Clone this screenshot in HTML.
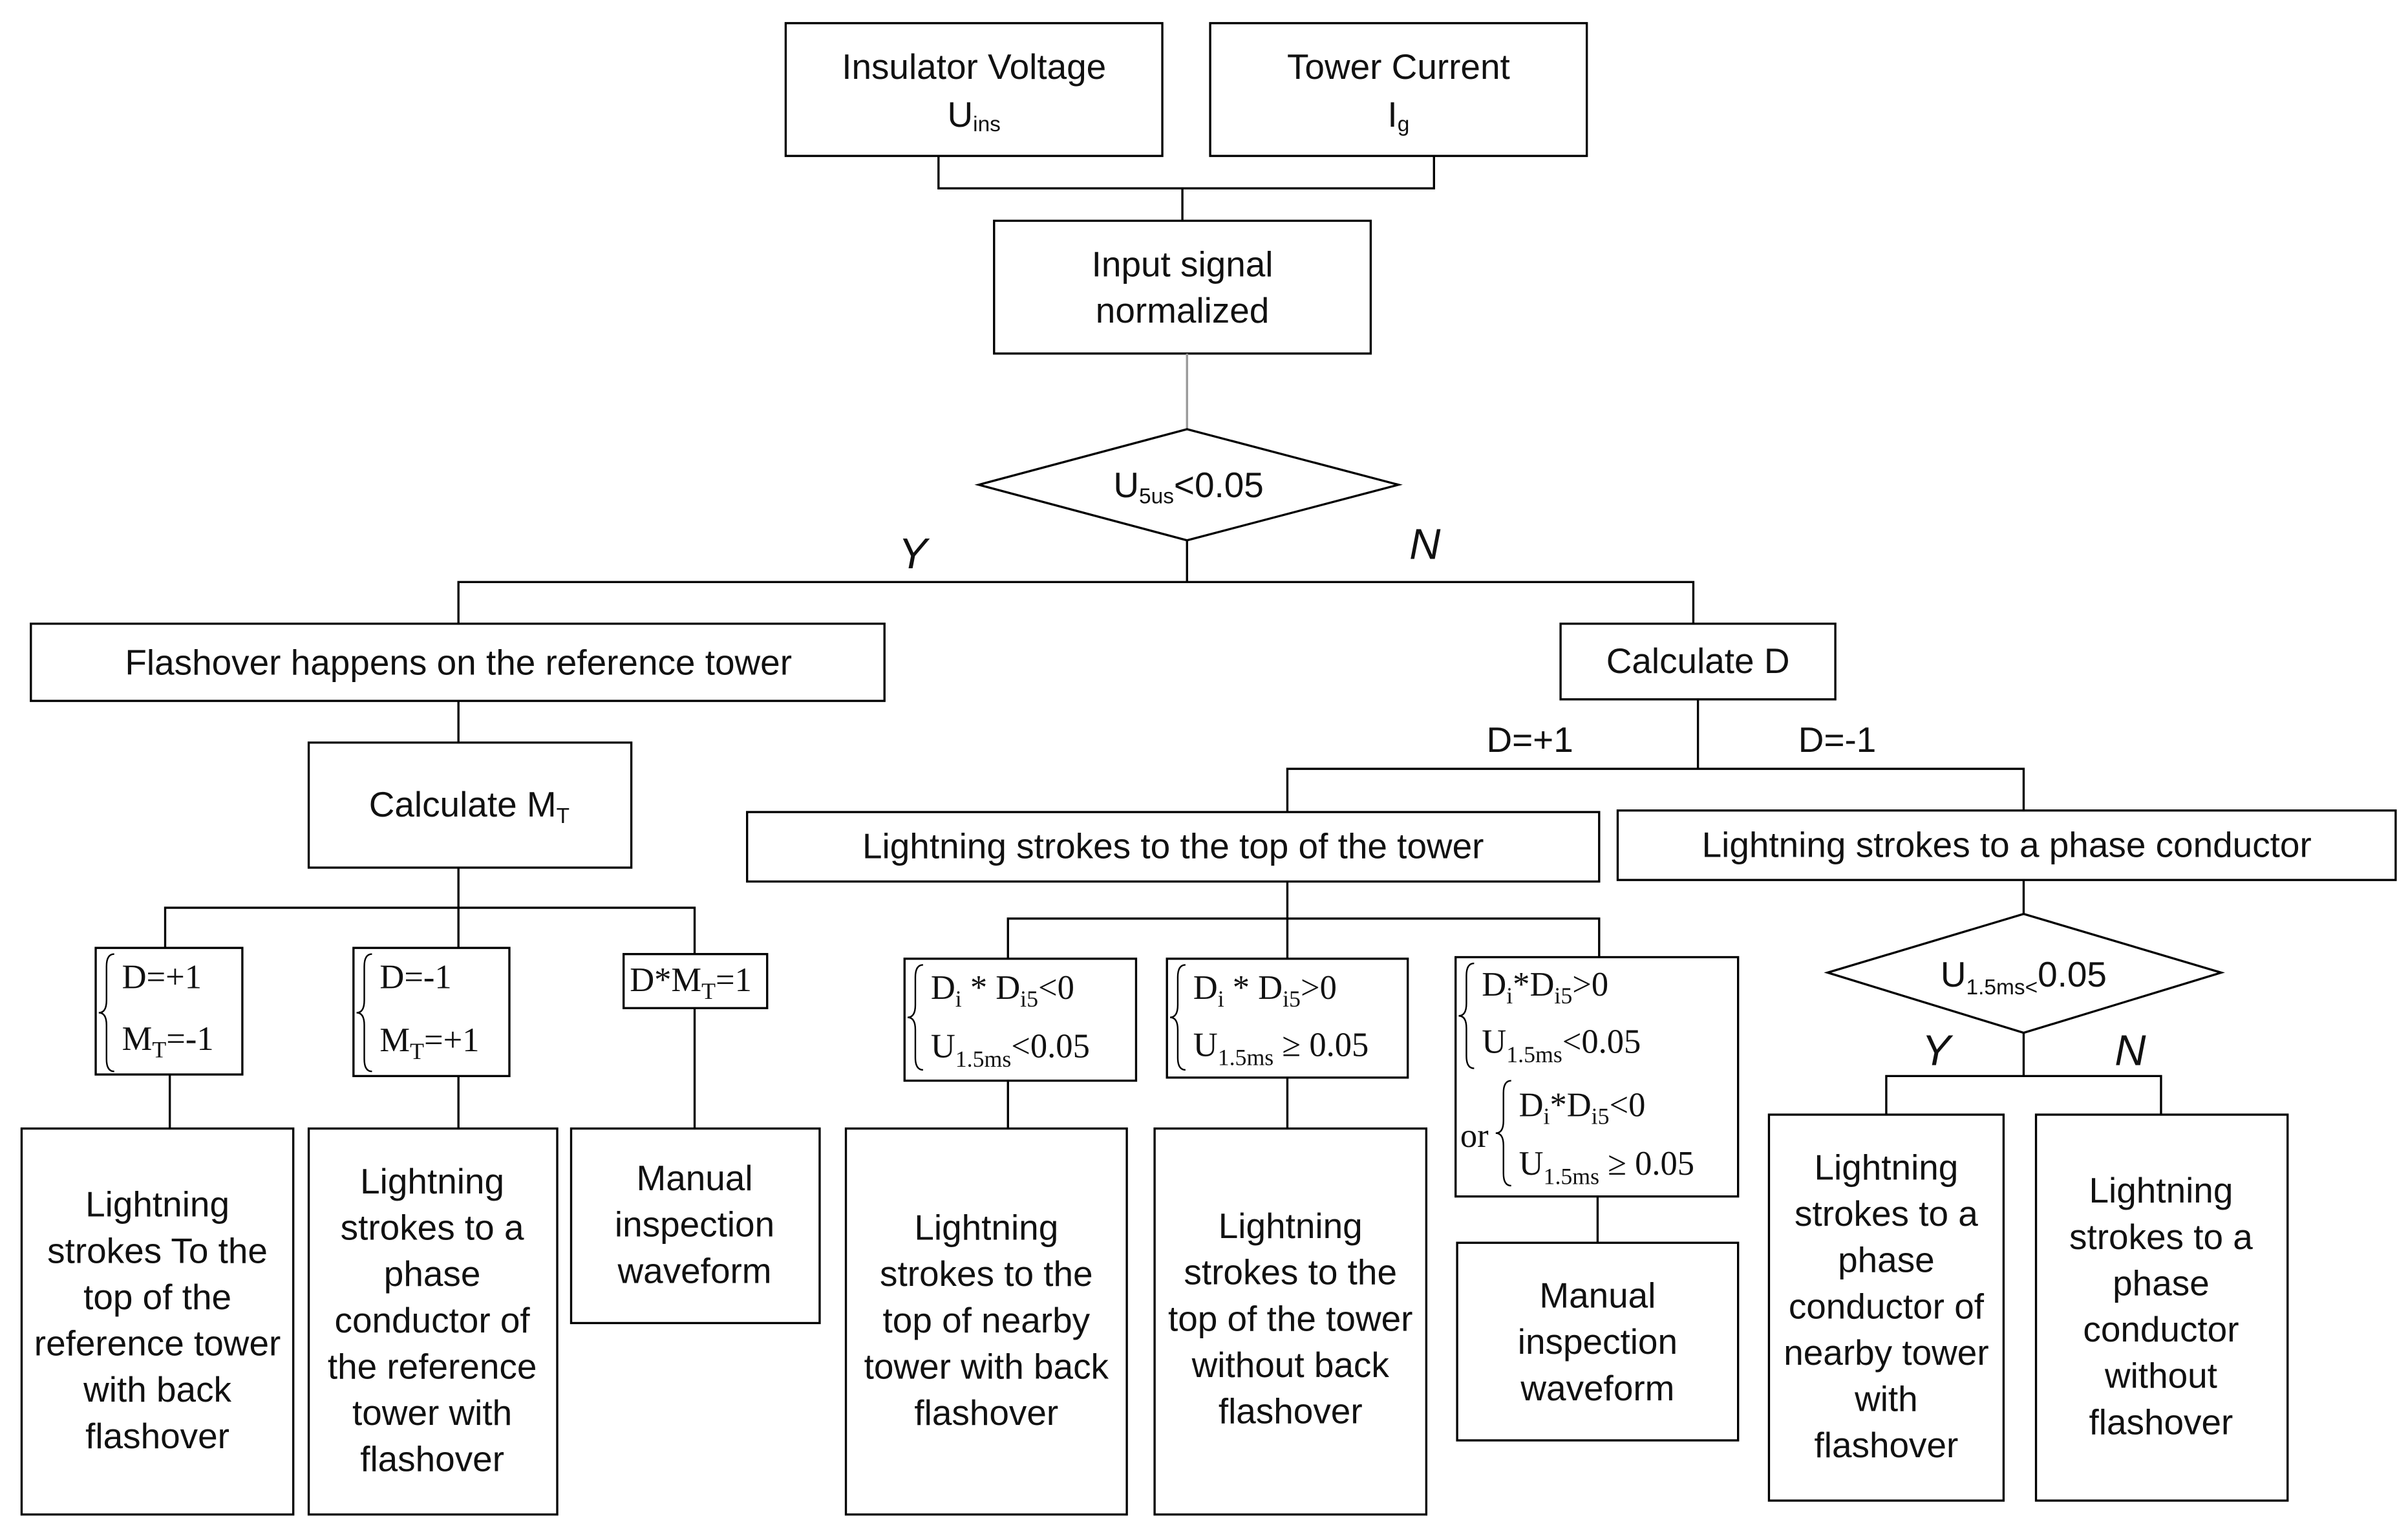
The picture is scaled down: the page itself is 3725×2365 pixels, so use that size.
<!DOCTYPE html>
<html><head><meta charset="utf-8">
<style>
html,body{margin:0;padding:0;background:#fff;}
svg{display:block;}
text{font-family:"Liberation Sans",sans-serif;font-size:23px;fill:#111;}
.m{font-family:"Liberation Serif",serif;font-size:22px;}
.s{font-size:14px;}
.ms{font-family:"Liberation Serif",serif;font-size:15px;}
</style></head><body>
<svg width="3725" height="2365" viewBox="0 0 1560 990.4" preserveAspectRatio="none" xmlns="http://www.w3.org/2000/svg">
<g fill="none" stroke="#000" stroke-width="1.4">
<rect x="509" y="15" width="244" height="86"/>
<rect x="784" y="15" width="244" height="86"/>
<polyline points="608,101 608,122 929,122 929,101"/>
<line x1="766" y1="122" x2="766" y2="143"/>
<rect x="644" y="143" width="244" height="86"/>
<line x1="769" y1="229" x2="769" y2="278" stroke="#999"/>
<polygon points="634,314 769,278 906,314 769,350"/>
<line x1="769" y1="350" x2="769" y2="377"/>
<polyline points="297,404 297,377 1097,377 1097,404"/>
<rect x="20" y="404" width="553" height="50"/>
<line x1="297" y1="454" x2="297" y2="481"/>
<rect x="200" y="481" width="209" height="81"/>
<line x1="297" y1="562" x2="297" y2="588"/>
<polyline points="107,614 107,588 450,588 450,618"/>
<line x1="297" y1="588" x2="297" y2="614"/>
<rect x="62" y="614" width="95" height="82"/>
<rect x="229" y="614" width="101" height="83"/>
<rect x="404" y="618" width="93" height="35"/>
<line x1="110" y1="696" x2="110" y2="731"/>
<line x1="297" y1="697" x2="297" y2="731"/>
<line x1="450" y1="653" x2="450" y2="731"/>
<rect x="14" y="731" width="176" height="250"/>
<rect x="200" y="731" width="161" height="250"/>
<rect x="370" y="731" width="161" height="126"/>
<rect x="1011" y="404" width="178" height="49"/>
<line x1="1100" y1="453" x2="1100" y2="498"/>
<polyline points="834,526 834,498 1311,498 1311,525"/>
<rect x="484" y="526" width="552" height="45"/>
<rect x="1048" y="525" width="504" height="45"/>
<line x1="834" y1="571" x2="834" y2="621"/>
<polyline points="653,621 653,595 1036,595 1036,620"/>
<rect x="586" y="621" width="150" height="79"/>
<rect x="756" y="621" width="156" height="77"/>
<rect x="943" y="620" width="183" height="155"/>
<line x1="653" y1="700" x2="653" y2="731"/>
<line x1="834" y1="698" x2="834" y2="731"/>
<line x1="1035" y1="775" x2="1035" y2="805"/>
<rect x="548" y="731" width="182" height="250"/>
<rect x="748" y="731" width="176" height="250"/>
<rect x="944" y="805" width="182" height="128"/>
<line x1="1311" y1="570" x2="1311" y2="592"/>
<polygon points="1184,630 1311,592 1439,630 1311,669"/>
<line x1="1311" y1="669" x2="1311" y2="697"/>
<polyline points="1222,722 1222,697 1400,697 1400,722"/>
<rect x="1146" y="722" width="152" height="250"/>
<rect x="1319" y="722" width="163" height="250"/>
<!-- braces -->
<path d="M74,618 q-5,0 -5,8 v22 q0,8 -5,8 q5,0 5,8 v22 q0,8 5,8" stroke-width="1"/>
<path d="M241,618 q-5,0 -5,8 v22 q0,8 -5,8 q5,0 5,8 v22 q0,8 5,8" stroke-width="1"/>
<path d="M598,625 q-5,0 -5,8 v18 q0,8 -5,8 q5,0 5,8 v18 q0,8 5,8" stroke-width="1"/>
<path d="M768,625 q-5,0 -5,8 v18 q0,8 -5,8 q5,0 5,8 v18 q0,8 5,8" stroke-width="1"/>
<path d="M955,624 q-5,0 -5,8 v18 q0,8 -5,8 q5,0 5,8 v18 q0,8 5,8" stroke-width="1"/>
<path d="M979,700 q-5,0 -5,8 v18 q0,8 -5,8 q5,0 5,8 v18 q0,8 5,8" stroke-width="1"/>
</g>
<g text-anchor="middle">
<text x="631" y="51">Insulator Voltage</text>
<text x="631" y="82">U<tspan class="s" dy="3">ins</tspan></text>
<text x="906" y="51">Tower Current</text>
<text x="906" y="82">I<tspan class="s" dy="3">g</tspan></text>
<text x="766" y="179">Input signal</text>
<text x="766" y="209">normalized</text>
<text x="770" y="322">U<tspan class="s" dy="4">5us</tspan><tspan dy="-4">&lt;0.05</tspan></text>
<text x="297" y="437">Flashover happens on the reference tower</text>
<text x="304" y="529">Calculate  M<tspan class="s" dy="4">T</tspan></text>
<text x="1100" y="436">Calculate D</text>
<text x="760" y="556">Lightning strokes to the top of the tower</text>
<text x="1300" y="555">Lightning strokes to a phase conductor</text>
<text x="1311" y="639">U<tspan class="s" dy="5">1.5ms&lt;</tspan><tspan dy="-5">0.05</tspan></text>
</g>
<text x="582" y="368" style="font-style:italic;font-size:28px">Y</text>
<text x="913" y="362" style="font-style:italic;font-size:28px">N</text>
<text x="963" y="487">D=+1</text>
<text x="1165" y="487">D=-1</text>
<text x="1245" y="690" style="font-style:italic;font-size:28px">Y</text>
<text x="1370" y="690" style="font-style:italic;font-size:28px">N</text>
<!-- math -->
<text class="m" x="79" y="640">D=+1</text>
<text class="m" x="79" y="680">M<tspan class="ms" dy="5">T</tspan><tspan dy="-5">=-1</tspan></text>
<text class="m" x="246" y="640">D=-1</text>
<text class="m" x="246" y="681">M<tspan class="ms" dy="5">T</tspan><tspan dy="-5">=+1</tspan></text>
<text class="m" x="408" y="642">D*M<tspan class="ms" dy="5">T</tspan><tspan dy="-5">=1</tspan></text>
<text class="m" x="603" y="647">D<tspan class="ms" dy="5">i</tspan><tspan dy="-5"> * D</tspan><tspan class="ms" dy="5">i5</tspan><tspan dy="-5">&lt;0</tspan></text>
<text class="m" x="603" y="685">U<tspan class="ms" dy="6">1.5ms</tspan><tspan dy="-6">&lt;0.05</tspan></text>
<text class="m" x="773" y="647">D<tspan class="ms" dy="5">i</tspan><tspan dy="-5"> * D</tspan><tspan class="ms" dy="5">i5</tspan><tspan dy="-5">&gt;0</tspan></text>
<text class="m" x="773" y="684">U<tspan class="ms" dy="6">1.5ms</tspan><tspan dy="-6"> ≥ 0.05</tspan></text>
<text class="m" x="960" y="645">D<tspan class="ms" dy="5">i</tspan><tspan dy="-5">*D</tspan><tspan class="ms" dy="5">i5</tspan><tspan dy="-5">&gt;0</tspan></text>
<text class="m" x="960" y="682">U<tspan class="ms" dy="6">1.5ms</tspan><tspan dy="-6">&lt;0.05</tspan></text>
<text class="m" x="946" y="743">or</text>
<text class="m" x="984" y="723">D<tspan class="ms" dy="5">i</tspan><tspan dy="-5">*D</tspan><tspan class="ms" dy="5">i5</tspan><tspan dy="-5">&lt;0</tspan></text>
<text class="m" x="984" y="761">U<tspan class="ms" dy="6">1.5ms</tspan><tspan dy="-6"> ≥ 0.05</tspan></text>
<!-- bottom boxes -->
<g text-anchor="middle">
<text x="102" y="788">Lightning</text><text x="102" y="818">strokes To the</text><text x="102" y="848">top of the</text><text x="102" y="878">reference tower</text><text x="102" y="908">with back</text><text x="102" y="938">flashover</text>
<text x="280" y="773">Lightning</text><text x="280" y="803">strokes to a</text><text x="280" y="833">phase</text><text x="280" y="863">conductor of</text><text x="280" y="893">the reference</text><text x="280" y="923">tower with</text><text x="280" y="953">flashover</text>
<text x="450" y="771">Manual</text><text x="450" y="801">inspection</text><text x="450" y="831">waveform</text>
<text x="639" y="803">Lightning</text><text x="639" y="833">strokes to the</text><text x="639" y="863">top of nearby</text><text x="639" y="893">tower with back</text><text x="639" y="923">flashover</text>
<text x="836" y="802">Lightning</text><text x="836" y="832">strokes to the</text><text x="836" y="862">top of the tower</text><text x="836" y="892">without back</text><text x="836" y="922">flashover</text>
<text x="1035" y="847">Manual</text><text x="1035" y="877">inspection</text><text x="1035" y="907">waveform</text>
<text x="1222" y="764">Lightning</text><text x="1222" y="794">strokes to a</text><text x="1222" y="824">phase</text><text x="1222" y="854">conductor of</text><text x="1222" y="884">nearby tower</text><text x="1222" y="914">with</text><text x="1222" y="944">flashover</text>
<text x="1400" y="779">Lightning</text><text x="1400" y="809">strokes to a</text><text x="1400" y="839">phase</text><text x="1400" y="869">conductor</text><text x="1400" y="899">without</text><text x="1400" y="929">flashover</text>
</g>
</svg>
</body></html>
